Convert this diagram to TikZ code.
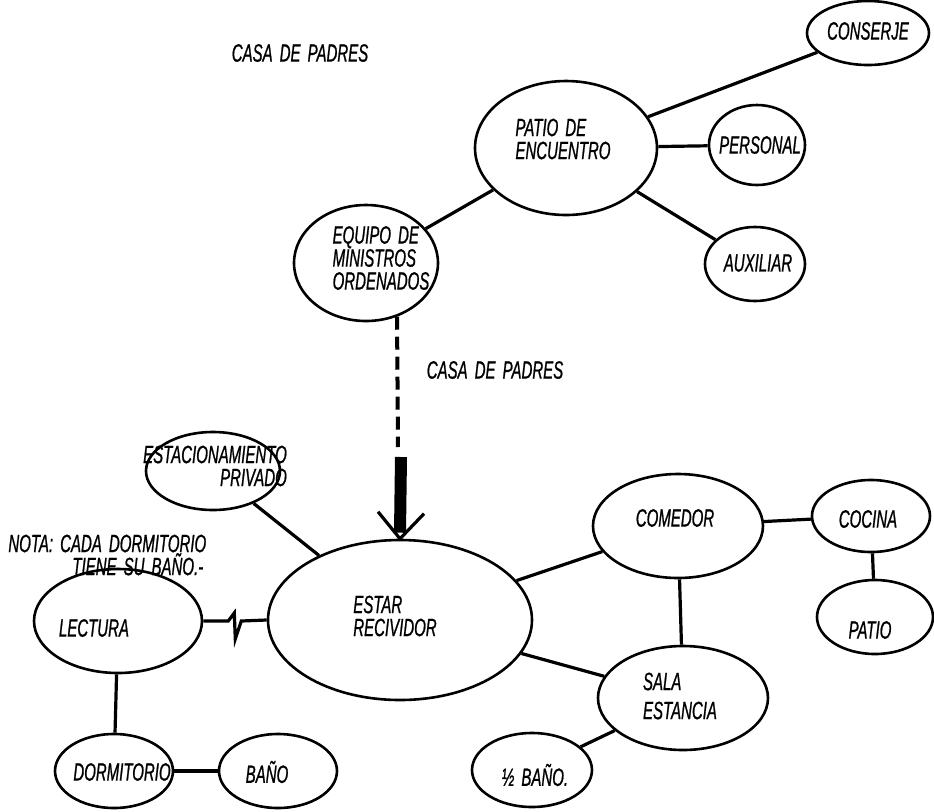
\documentclass[tikz,border=0pt]{standalone}
\usepackage{fontspec}
\setmainfont{Liberation Sans}[FakeStretch=0.6,WordSpace=1.7,FakeBold=0.8]
\usetikzlibrary{shapes.geometric,positioning}
\newcommand\handfont{\itshape\fontsize{12.5}{11.5}\selectfont}
\tikzset{
  room/.style={draw,ellipse,line width=1.3pt,inner sep=0pt},
  link/.style={line width=1.6pt},
  note/.style={font=\handfont,align=left,inner sep=0pt}
}

\begin{document}
\begin{tikzpicture}[x=0.5pt,y=-0.5pt]
        \useasboundingbox (0,0) rectangle (934,811);

        % ellipses: name / x / y / rx / ry
        \foreach \nm/\px/\py/\rx/\ry in {conserje/868/33/61/32, patioenc/566/148/91/67,
            personal/757/145/48/40, auxiliar/755/264/50/37, equipo/366/263/72/58,
            estac/213/471/67/39, estar/400/620/132/80, lectura/118/621/84/52,
            dormit/114/771/59/37, bano/278/771/59/37, comedor/678/526/85/52,
            cocina/871/516/59/36, patio/875/617/58/37, sala/683/698/85/52,
            medio/532/770/60/37} {
          \node[room,minimum width=\rx pt,minimum height=\ry pt] (\nm) at (\px,\py) {};
        }

        % texts
        \node[note] (casa) at (300,53) {CASA DE PADRES};
        \node[note] (conserje-t) at (868,31) {CONSERJE};
        \node[note] (patioenc-t) at (563,139) {PATIO DE\\ENCUENTRO};
        \node[note] (personal-t) at (760,145) {PERSONAL};
        \node[note] (auxiliar-t) at (758,263) {AUXILIAR};
        \node[note] (equipo-t) at (381,258) {EQUIPO DE\\MINISTROS\\ORDENADOS};
        \node[note] (casa2) at (495,370) {CASA DE PADRES};
        \node[note,align=right] (estac-t) at (215,466) {ESTACIONAMIENTO\\PRIVADO};
        \node[note,anchor=west] (nota) at (8,555) {NOTA: CADA DORMITORIO\\\hspace*{32pt}TIENE SU BAÑO.-};
        \node[note] (estar-t) at (395,616) {ESTAR\\RECIVIDOR};
        \node[note] (lectura-t) at (94,628) {LECTURA};
        \node[note] (dormit-t) at (122,772) {DORMITORIO};
        \node[note] (bano-t) at (267,772) {BAÑO};
        \node[note] (comedor-t) at (675,518) {COMEDOR};
        \node[note] (cocina-t) at (868,519) {COCINA};
        \node[note] (patio-t) at (870,630) {PATIO};
        \node[note] (sala-t) at (680,696) {SALA\\[3pt]ESTANCIA};
        \node[note] (medio-t) at (535,775) {½ BAÑO.};

        % connectors
        \draw[link] (patioenc) -- (conserje);
        \draw[link] (patioenc) -- (personal);
        \draw[link] (patioenc) -- (auxiliar);
        \draw[link] (patioenc) -- (equipo);
        \draw[link] (estac) -- (estar);
        \draw[link] (estar) -- (comedor);
        \draw[link] (estar) -- (sala);
        \draw[link] (comedor) -- (sala);
        \draw[link] (comedor) -- (cocina);
        \draw[link] (cocina) -- (patio);
        \draw[link] (sala) -- (medio);
        \draw[link] (lectura) -- (dormit);
        \draw[link] (dormit) -- (bano);
        \draw[link] (lectura.east) -- ++(25,0) -- ++(6,-8) -- ++(1,26) -- ++(6,-18) -- (estar.west);

        % casa de padres -> estar
        \coordinate (dashend) at (398,447);
        \coordinate (barstart) at (401,457);
        \draw[line width=2pt,dash pattern=on 6.5pt off 3.5pt] (equipo.-60) -- (dashend);
        \draw[line width=6pt] (barstart) -- ([yshift=3pt]estar.north);
        \draw[link] ([shift={(-22,-27)}]estar.north) -- (estar.north) -- ([shift={(24,-25)}]estar.north);
      \end{tikzpicture}
\end{document}
